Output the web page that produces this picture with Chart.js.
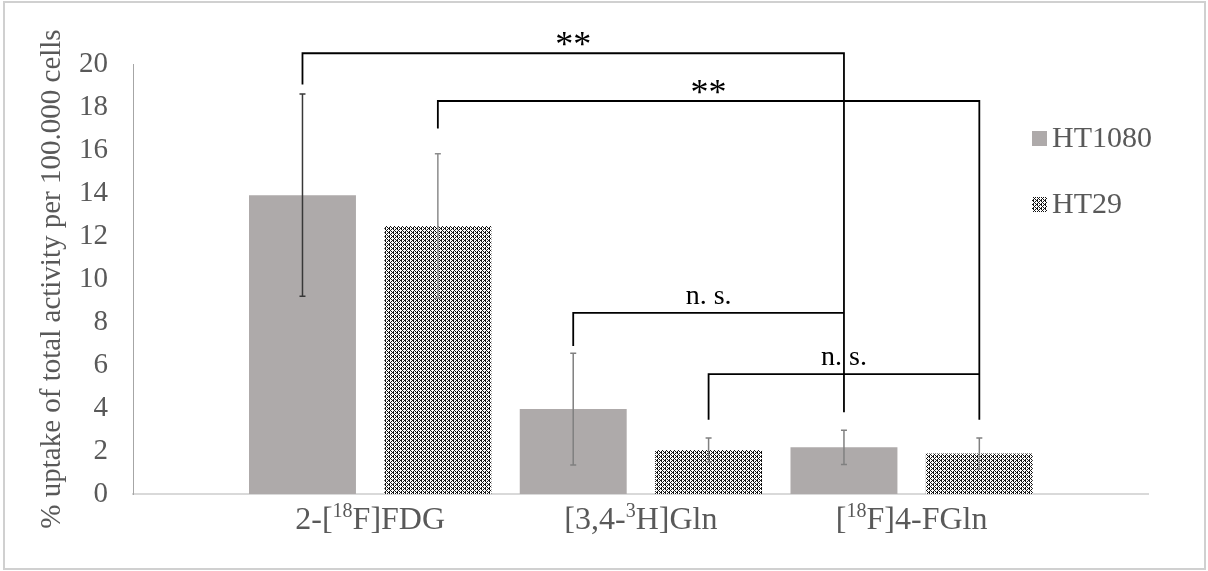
<!DOCTYPE html>
<html><head><meta charset="utf-8">
<script src="https://cdn.jsdelivr.net/npm/chart.js@4"></script>
<style>html,body{margin:0;padding:0;background:#fff}#wrap{width:1208px;height:571px}</style>
</head><body><div id="wrap"><canvas id="c" width="1208" height="571"></canvas></div>
<script>
// ---- data ----
const categories = [['2-[', '18', 'F]FDG'], ['[3,4-', '3', 'H]Gln'], ['[', '18', 'F]4-FGln']];
const seriesNames = ['HT1080', 'HT29'];
const ht1080 = [13.9, 3.95, 2.17];
const ht29 = [12.47, 2.05, 1.88];
const errHT1080 = [4.7, 2.6, 0.8];
const errHT29 = [3.35, 0.55, 0.72];
const yTicks = [0, 2, 4, 6, 8, 10, 12, 14, 16, 18, 20];
const yTitle = '% uptake of total activity per 100.000 cells';
// significance brackets (x in category units, y in data units)
const brackets = [
  {text: '**',   x1: 0.75, x2: 2.75, y: 20.5,  y1: 19.05, y2: 3.8},
  {text: '**',   x1: 1.25, x2: 3.25, y: 18.28, y1: 17.0,  y2: 3.45},
  {text: 'n. s.', x1: 1.75, x2: 2.75, y: 8.42,  y1: 6.88,  y2: null},
  {text: 'n. s.', x1: 2.25, x2: 3.25, y: 5.58,  y1: 3.45,  y2: null}
];

// ---- styles ----
const FONT = '"Liberation Serif", "Times New Roman", serif';
const TXT = '#595959';
const GRAY = '#AEAAAA';
const canvas = document.getElementById('c');
const ctx0 = canvas.getContext('2d');
function makePattern() {
  const t = document.createElement('canvas'); t.width = 8; t.height = 8;
  const g = t.getContext('2d');
  g.fillStyle = '#fff'; g.fillRect(0, 0, 8, 8);
  g.fillStyle = '#141414';
  for (let y = 0; y < 8; y++) for (let x = 0; x < 8; x++) {
    const s = (x + y) % 4;
    const d = (x - y + 8) % 4;
    if (s === 0 || (s === 2 && d === 0) || (s === 1 && x % 4 === 1 && y % 2 === 0)) g.fillRect(x, y, 1, 1);
  }
  return ctx0.createPattern(t, 'repeat');
}
const PAT = makePattern();
const errColors = [['#383838', '#808080', '#808080'], ['#8c8c8c', '#808080', '#808080']];

const custom = {
  id: 'custom',
  beforeDraw(chart) {
    const c = chart.ctx; c.save();
    c.fillStyle = '#fff'; c.fillRect(0, 0, chart.width, chart.height);
    c.strokeStyle = '#d0d0d0'; c.lineWidth = 2; c.strokeRect(4, 2, 1201, 567);
    c.restore();
  },
  afterDatasetsDraw(chart) {
    const c = chart.ctx, ys = chart.scales.y;
    const errs = [errHT1080, errHT29];
    const vals = [ht1080, ht29];
    c.save();
    for (let d = 0; d < 2; d++) {
      const meta = chart.getDatasetMeta(d);
      meta.data.forEach((el, i) => {
        const v = vals[d][i], e = errs[d][i];
        const t = ys.getPixelForValue(v + e), b = ys.getPixelForValue(v - e);
        c.strokeStyle = errColors[d][i]; c.lineWidth = 1.5;
        c.beginPath();
        c.moveTo(el.x, t); c.lineTo(el.x, b);
        c.moveTo(el.x - 3, t); c.lineTo(el.x + 3, t);
        c.moveTo(el.x - 3, b); c.lineTo(el.x + 3, b);
        c.stroke();
      });
    }
    c.restore();
  },
  afterDraw(chart) {
    const c = chart.ctx, xs = chart.scales.x, ys = chart.scales.y;
    c.save();
    // brackets
    c.strokeStyle = '#000'; c.lineWidth = 1.8; c.fillStyle = '#000';
    brackets.forEach(bk => {
      const X1 = xs.getPixelForValue(bk.x1), X2 = xs.getPixelForValue(bk.x2);
      const Y = ys.getPixelForValue(bk.y);
      c.beginPath();
      c.moveTo(X1, ys.getPixelForValue(bk.y1)); c.lineTo(X1, Y); c.lineTo(X2, Y);
      if (bk.y2 !== null) c.lineTo(X2, ys.getPixelForValue(bk.y2));
      c.stroke();
      const mx = (X1 + X2) / 2;
      c.textAlign = 'center'; c.textBaseline = 'alphabetic';
      if (bk.text === '**') {
        c.font = '36px ' + FONT;
        const m = c.measureText(bk.text);
        const h = m.actualBoundingBoxAscent + m.actualBoundingBoxDescent;
        c.fillText(bk.text, mx, Y - 14 + h / 2 - m.actualBoundingBoxDescent);
      } else {
        c.font = '28px ' + FONT;
        c.fillText(bk.text, mx, Y - 9);
      }
    });
    // x labels with superscripts
    c.fillStyle = TXT; c.textAlign = 'left'; c.textBaseline = 'alphabetic';
    categories.forEach((parts, i) => {
      const cx = xs.getPixelForValue(i + 1);
      let w = 0;
      parts.forEach((p, k) => { c.font = (k === 1 ? '20px ' : '32px ') + FONT; w += c.measureText(p).width; });
      let x = cx - w / 2;
      parts.forEach((p, k) => {
        c.font = (k === 1 ? '20px ' : '32px ') + FONT;
        c.fillText(p, x, k === 1 ? 517 : 529);
        x += c.measureText(p).width;
      });
    });
    // legend
    c.font = '30px ' + FONT;
    c.fillStyle = GRAY; c.fillRect(1032, 131, 15, 15);
    c.fillStyle = PAT; c.fillRect(1032, 197, 15, 15);
    c.fillStyle = TXT;
    c.fillText(seriesNames[0], 1052, 147);
    c.fillText(seriesNames[1], 1052, 213);
    c.restore();
  }
};

new Chart(canvas, {
  type: 'bar',
  data: {
    datasets: [
      {label: seriesNames[0], data: ht1080.map((v, i) => ({x: i + 1, y: v})), backgroundColor: GRAY, borderWidth: 0},
      {label: seriesNames[1], data: ht29.map((v, i) => ({x: i + 1, y: v})), backgroundColor: PAT, borderWidth: 0}
    ]
  },
  options: {
    responsive: false, animation: false, devicePixelRatio: 1,
    categoryPercentage: 1.0, barPercentage: 0.79,
    layout: {padding: {left: 0, top: 64, right: 60, bottom: 0}},
    plugins: {legend: {display: false}, tooltip: {enabled: false}},
    scales: {
      x: {
        type: 'linear', offset: false, min: 0.124, max: 3.873,
        afterBuildTicks: s => { s.ticks = [1, 2, 3].map(v => ({value: v})); },
        afterFit: s => { s.height = 77; },
        ticks: {display: false},
        grid: {display: false},
        border: {display: true, color: '#d9d9d9', width: 2}
      },
      y: {
        min: 0, max: 20,
        afterBuildTicks: s => { s.ticks = yTicks.map(v => ({value: v})); },
        afterFit: s => { s.width = 133; },
        ticks: {color: TXT, font: {family: FONT, size: 29}, padding: 25},
        grid: {display: false, drawTicks: false},
        border: {display: true, color: '#a6a6a6', width: 1},
        title: {display: true, text: yTitle, color: TXT, font: {family: FONT, size: 29}, padding: {top: 35, bottom: 0}}
      }
    }
  },
  plugins: [custom]
});
</script></body></html>
